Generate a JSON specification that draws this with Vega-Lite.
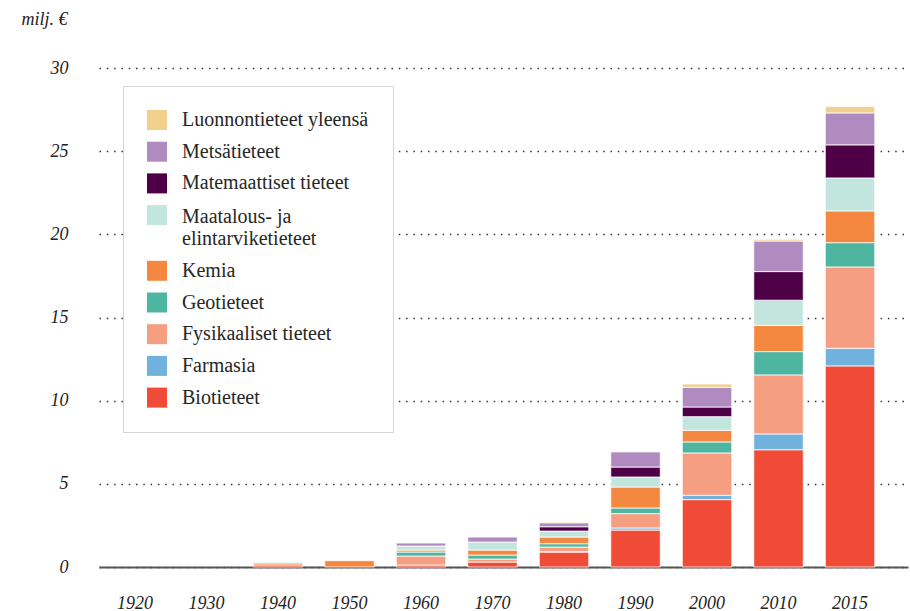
{
  "$schema": "https://vega.github.io/schema/vega-lite/v6.json",
  "width": 809,
  "height": 499,
  "autosize": "none",
  "padding": {"left": 99, "top": 68, "right": 2, "bottom": 44},
  "background": "white",
  "config": {
    "view": {"stroke": null},
    "font": "Liberation Serif"
  },
  "data": {
    "values": [
      {"year": "1940", "ala": "Biotieteet", "j": 1, "v": 0.12},
      {"year": "1940", "ala": "Kemia", "j": 5, "v": 0.12},
      {"year": "1940", "ala": "Maatalous- ja elintarviketieteet", "j": 6, "v": 0.06},
      {"year": "1950", "ala": "Kemia", "j": 5, "v": 0.38},
      {"year": "1960", "ala": "Biotieteet", "j": 1, "v": 0.12},
      {"year": "1960", "ala": "Fysikaaliset tieteet", "j": 3, "v": 0.54},
      {"year": "1960", "ala": "Geotieteet", "j": 4, "v": 0.24},
      {"year": "1960", "ala": "Kemia", "j": 5, "v": 0.12},
      {"year": "1960", "ala": "Maatalous- ja elintarviketieteet", "j": 6, "v": 0.24},
      {"year": "1960", "ala": "Metsätieteet", "j": 8, "v": 0.18},
      {"year": "1970", "ala": "Biotieteet", "j": 1, "v": 0.30},
      {"year": "1970", "ala": "Fysikaaliset tieteet", "j": 3, "v": 0.18},
      {"year": "1970", "ala": "Geotieteet", "j": 4, "v": 0.24},
      {"year": "1970", "ala": "Kemia", "j": 5, "v": 0.30},
      {"year": "1970", "ala": "Maatalous- ja elintarviketieteet", "j": 6, "v": 0.48},
      {"year": "1970", "ala": "Metsätieteet", "j": 8, "v": 0.30},
      {"year": "1980", "ala": "Biotieteet", "j": 1, "v": 0.90},
      {"year": "1980", "ala": "Farmasia", "j": 2, "v": 0.02},
      {"year": "1980", "ala": "Fysikaaliset tieteet", "j": 3, "v": 0.28},
      {"year": "1980", "ala": "Geotieteet", "j": 4, "v": 0.20},
      {"year": "1980", "ala": "Kemia", "j": 5, "v": 0.40},
      {"year": "1980", "ala": "Maatalous- ja elintarviketieteet", "j": 6, "v": 0.36},
      {"year": "1980", "ala": "Matemaattiset tieteet", "j": 7, "v": 0.26},
      {"year": "1980", "ala": "Metsätieteet", "j": 8, "v": 0.24},
      {"year": "1980", "ala": "Luonnontieteet yleensä", "j": 9, "v": 0.05},
      {"year": "1990", "ala": "Biotieteet", "j": 1, "v": 2.22},
      {"year": "1990", "ala": "Farmasia", "j": 2, "v": 0.13},
      {"year": "1990", "ala": "Fysikaaliset tieteet", "j": 3, "v": 0.86},
      {"year": "1990", "ala": "Geotieteet", "j": 4, "v": 0.34},
      {"year": "1990", "ala": "Kemia", "j": 5, "v": 1.26},
      {"year": "1990", "ala": "Maatalous- ja elintarviketieteet", "j": 6, "v": 0.60},
      {"year": "1990", "ala": "Matemaattiset tieteet", "j": 7, "v": 0.60},
      {"year": "1990", "ala": "Metsätieteet", "j": 8, "v": 0.91},
      {"year": "2000", "ala": "Biotieteet", "j": 1, "v": 4.05},
      {"year": "2000", "ala": "Farmasia", "j": 2, "v": 0.26},
      {"year": "2000", "ala": "Fysikaaliset tieteet", "j": 3, "v": 2.55},
      {"year": "2000", "ala": "Geotieteet", "j": 4, "v": 0.66},
      {"year": "2000", "ala": "Kemia", "j": 5, "v": 0.70},
      {"year": "2000", "ala": "Maatalous- ja elintarviketieteet", "j": 6, "v": 0.82},
      {"year": "2000", "ala": "Matemaattiset tieteet", "j": 7, "v": 0.58},
      {"year": "2000", "ala": "Metsätieteet", "j": 8, "v": 1.18},
      {"year": "2000", "ala": "Luonnontieteet yleensä", "j": 9, "v": 0.20},
      {"year": "2010", "ala": "Biotieteet", "j": 1, "v": 7.05},
      {"year": "2010", "ala": "Farmasia", "j": 2, "v": 0.95},
      {"year": "2010", "ala": "Fysikaaliset tieteet", "j": 3, "v": 3.55},
      {"year": "2010", "ala": "Geotieteet", "j": 4, "v": 1.40},
      {"year": "2010", "ala": "Kemia", "j": 5, "v": 1.58},
      {"year": "2010", "ala": "Maatalous- ja elintarviketieteet", "j": 6, "v": 1.51},
      {"year": "2010", "ala": "Matemaattiset tieteet", "j": 7, "v": 1.72},
      {"year": "2010", "ala": "Metsätieteet", "j": 8, "v": 1.84},
      {"year": "2010", "ala": "Luonnontieteet yleensä", "j": 9, "v": 0.10},
      {"year": "2015", "ala": "Biotieteet", "j": 1, "v": 12.09},
      {"year": "2015", "ala": "Farmasia", "j": 2, "v": 1.06},
      {"year": "2015", "ala": "Fysikaaliset tieteet", "j": 3, "v": 4.89},
      {"year": "2015", "ala": "Geotieteet", "j": 4, "v": 1.46},
      {"year": "2015", "ala": "Kemia", "j": 5, "v": 1.91},
      {"year": "2015", "ala": "Maatalous- ja elintarviketieteet", "j": 6, "v": 1.98},
      {"year": "2015", "ala": "Matemaattiset tieteet", "j": 7, "v": 1.99},
      {"year": "2015", "ala": "Metsätieteet", "j": 8, "v": 1.92},
      {"year": "2015", "ala": "Luonnontieteet yleensä", "j": 9, "v": 0.38}
    ]
  },
  "mark": {"type": "bar", "stroke": "white", "strokeWidth": 0.8, "opacity": 1},
  "encoding": {
    "x": {
      "field": "year",
      "type": "ordinal",
      "scale": {
        "domain": ["1920", "1930", "1940", "1950", "1960", "1970", "1980", "1990", "2000", "2010", "2015"],
        "paddingInner": 0.308,
        "paddingOuter": 0.311,
        "align": 0.253
      },
      "axis": {
        "title": null,
        "labelAngle": 0,
        "ticks": false,
        "grid": false,
        "domainColor": "#555555",
        "domainWidth": 2,
        "labelFont": "Liberation Serif",
        "labelFontStyle": "italic",
        "labelFontSize": 18,
        "labelColor": "#222222",
        "labelPadding": 27
      }
    },
    "y": {
      "field": "v",
      "type": "quantitative",
      "stack": "zero",
      "scale": {"domain": [0, 30], "nice": false},
      "axis": {
        "title": "milj. €",
        "titleAngle": 0,
        "titleX": -78,
        "titleY": -49,
        "titleAlign": "left",
        "titleBaseline": "middle",
        "titleFont": "Liberation Serif",
        "titleFontStyle": "italic",
        "titleFontWeight": "normal",
        "titleFontSize": 18,
        "titleColor": "#222222",
        "values": [0, 5, 10, 15, 20, 25, 30],
        "domain": false,
        "ticks": false,
        "grid": true,
        "gridColor": "#333333",
        "gridWidth": 1.5,
        "gridDash": [1.5, 5.8],
        "labelFont": "Liberation Serif",
        "labelFontStyle": "italic",
        "labelFontSize": 18,
        "labelColor": "#222222",
        "labelPadding": 31
      }
    },
    "color": {
      "field": "ala",
      "type": "nominal",
      "scale": {
        "domain": ["Luonnontieteet yleensä", "Metsätieteet", "Matemaattiset tieteet", "Maatalous- ja elintarviketieteet", "Kemia", "Geotieteet", "Fysikaaliset tieteet", "Farmasia", "Biotieteet"],
        "range": ["#F0D08C", "#B08BBF", "#4D0045", "#C2E5DD", "#F58840", "#4EB5A0", "#F59E82", "#70B1DD", "#F04B36"]
      },
      "legend": {
        "title": null,
        "orient": "none",
        "legendX": 24,
        "legendY": 18,
        "symbolType": "square",
        "symbolSize": 400,
        "symbolStrokeWidth": 0,
        "symbolOpacity": 1,
        "labelFont": "Liberation Serif",
        "labelFontSize": 20,
        "labelColor": "#262626",
        "labelOffset": 15,
        "labelLimit": 400,
        "rowPadding": 11.7,
        "padding": 24,
        "strokeColor": "#d4d4d4",
        "fillColor": "white",
        "labelExpr": "datum.label == 'Maatalous- ja elintarviketieteet' ? ['Maatalous- ja', 'elintarviketieteet'] : datum.label",
        "encoding": {
          "labels": {
            "lineHeight": {"value": 21.6},
            "dy": {"value": {"expr": "datum.value == 'Maatalous- ja elintarviketieteet' ? 2 : 0"}}
          }
        }
      }
    },
    "order": {"field": "j", "type": "quantitative", "sort": "ascending"}
  }
}
